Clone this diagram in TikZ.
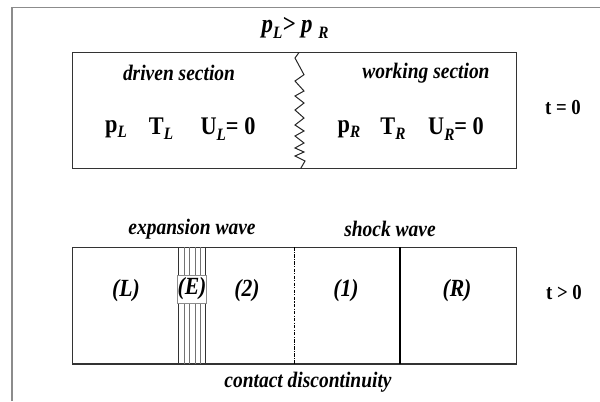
\documentclass[tikz,border=0pt]{standalone}
\usepackage{fontspec}
\setmainfont{Liberation Serif}[FakeStretch=0.88]
\usetikzlibrary{positioning}
\newcommand{\lsub}[1]{\raisebox{-0.45ex}{\fontsize{13}{13}\selectfont\bfseries\itshape #1}}

\begin{document}
\begin{tikzpicture}[
  x=0.75pt, y=-0.75pt,
  wall/.style={draw=black!80, line width=0.9pt},
  lbl/.style={font=\fontsize{16.6}{18}\selectfont\bfseries\itshape, inner sep=0pt},
  var/.style={font=\fontsize{19}{20}\selectfont\bfseries, inner sep=0pt},
  reg/.style={font=\fontsize{18.5}{20}\selectfont\bfseries\itshape, inner sep=0pt},
  tlab/.style={font=\fontsize{16}{18}\selectfont\bfseries, inner sep=0pt},
  fan/.style={draw=black!55, line width=0.5pt}
]
\useasboundingbox[fill=white] (0,0) rectangle (600,401);
\draw[black!45, line width=1pt] (12,401) -- (12,7.5) -- (600,7.5);

% t = 0
\node[var, font=\fontsize{19.5}{20}\selectfont\bfseries\itshape] (cond) at (295,28) {p\lsub{L}> p \lsub{R}};
\draw[wall] (72.7,52.5) rectangle (516.7,168.5);
\draw[black!85, line width=0.75pt] (299,52.5) -- (295,58) -- (304,74.7) -- (295,81)
  -- (304,91) -- (295,96) -- (304,103) -- (295,110) -- (304,118) -- (295,125)
  -- (304,131) -- (295,136) -- (304,143) -- (295,148) -- (304,152) -- (295,156)
  -- (305,161) -- (300.7,168.5);
\node[lbl] (drv) at (179,73) {driven section};
\node[lbl] (wrk) at (426,73) {working section};
\node[var] (pL) at (116,129) {p\lsub{L}};
\node[var] (TL) at (161,129) {T\lsub{L}};
\node[var] (UL) at (228,129) {U\lsub{L}= 0};
\node[var] (pR) at (349,129) {p\lsub{R}};
\node[var] (TR) at (393,129) {T\lsub{R}};
\node[var] (UR) at (456,129) {U\lsub{R}= 0};
\node[tlab] (t0) at (563,108) {t = 0};

% t > 0
\node[lbl] (exp) at (192,229) {expansion wave};
\node[lbl] (shk) at (390,229) {shock wave};
\draw[wall] (72.5,247.3) rectangle (516.7,364);
\foreach \x in {184,189.5,195,200.3}
  \draw[fan] (\x,247.3) -- (\x,364);
\draw[wall] (178.3,247.3) -- (178.3,364);
\draw[wall] (205.7,247.3) -- (205.7,364);
\draw[black, line width=1pt, dash pattern=on 2.5pt off 1pt on 0.8pt off 1pt]
  (294.3,247.3) -- (294.3,364);
\draw[black, line width=1.5pt] (400,247.3) -- (400,364);
\node[reg, fill=white, draw=black!45, line width=0.4pt, minimum width=20.5pt,
  minimum height=21pt] (E) at (192,289) {(E)};
\node[reg] (L) at (126,291) {(L)};
\node[reg] (two) at (247,291) {(2)};
\node[reg] (one) at (346,291) {(1)};
\node[reg] (R) at (457,291) {(R)};
\node[tlab] (tp) at (564,293) {t > 0};
\node[lbl] (cd) at (308,382) {contact discontinuity};
\end{tikzpicture}
\end{document}
